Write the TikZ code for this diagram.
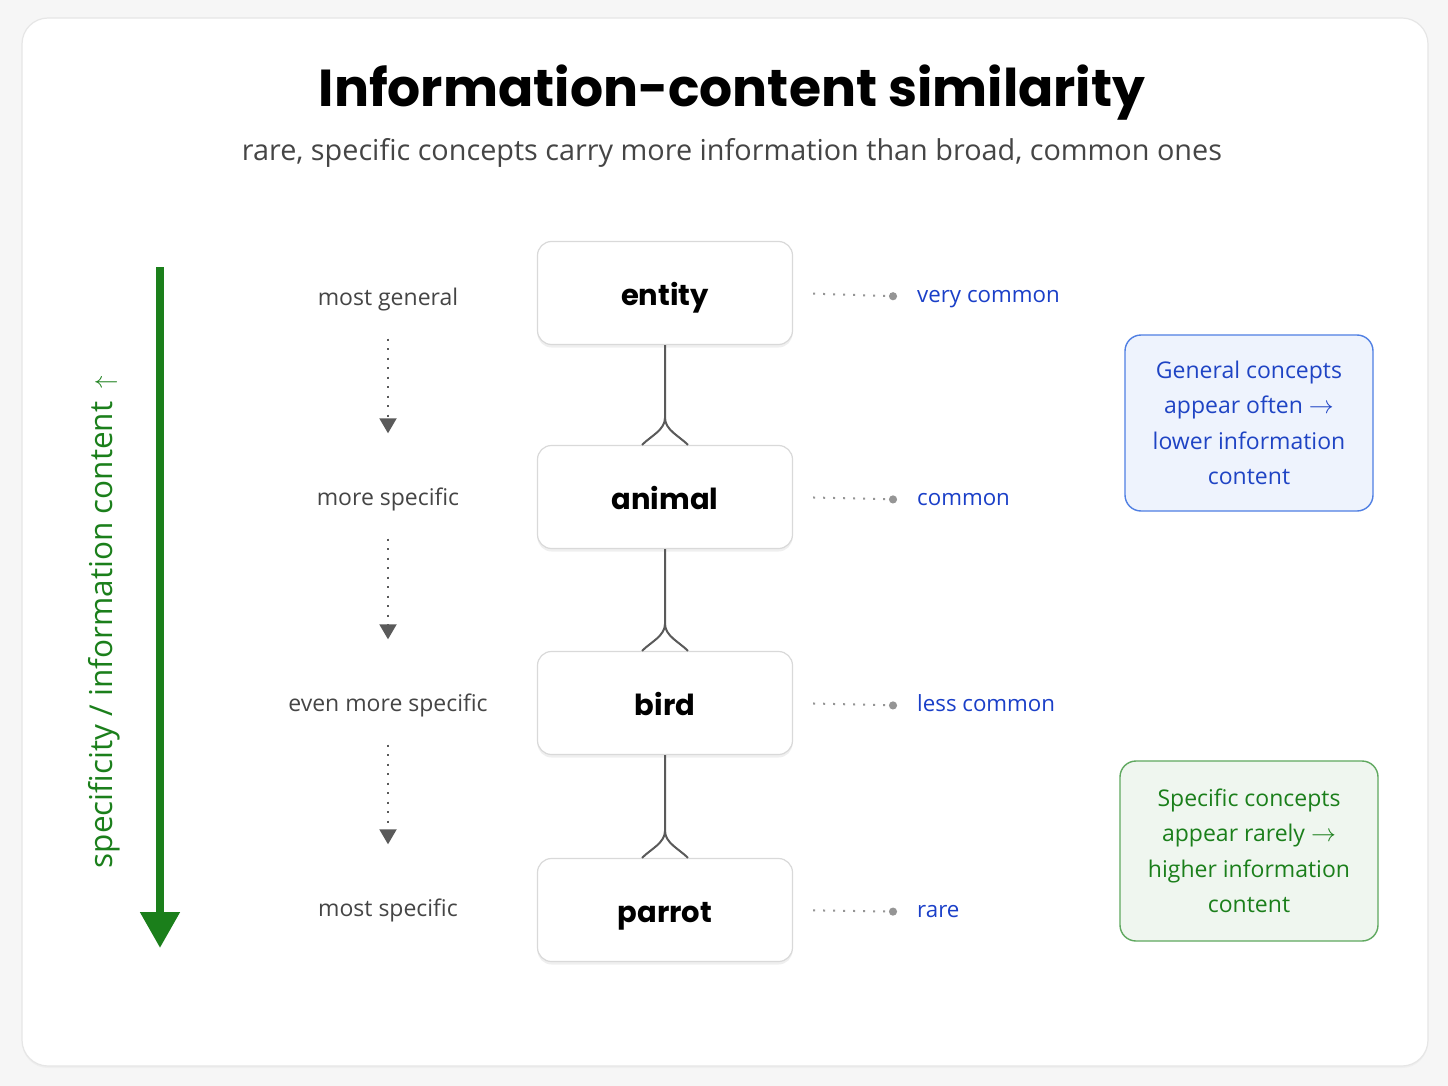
\documentclass[tikz,border=0pt]{standalone}
\usepackage{fontspec}
\setmainfont{Open Sans}
\newfontfamily\headfont{Poppins}
\newfontfamily\symfont{DejaVu Sans}
\usetikzlibrary{arrows.meta}
\usetikzlibrary{calc}
\usetikzlibrary{shadows}
\definecolor{pagegray}{HTML}{F6F6F6}
\definecolor{cardline}{HTML}{E6E6E6}
\definecolor{boxline}{HTML}{D9D9D9}
\definecolor{labelgray}{HTML}{454545}
\definecolor{linegray}{HTML}{5A5A5A}
\definecolor{dotgray}{HTML}{959595}
\definecolor{freqblue}{HTML}{1A3FC8}
\definecolor{noteblue}{HTML}{1F44C4}
\definecolor{noteblueline}{HTML}{4F7FE3}
\definecolor{notebluefill}{HTML}{EEF3FD}
\definecolor{specgreen}{HTML}{1B7F1B}
\definecolor{notegreenline}{HTML}{5FA85F}
\definecolor{notegreenfill}{HTML}{EFF6EF}
\tikzset{concept/.style = {draw=boxline, line width=1.2, fill=white, rounded corners=14,
    minimum width=255, minimum height=103, text=black, text height=26, text depth=2,
    font=\headfont\bfseries\fontsize{29}{34}\selectfont,
    drop shadow={shadow xshift=0pt, shadow yshift=-3pt, opacity=0.12}}}
\tikzset{level/.style = {inner sep=0, text height=16, text depth=5, text=labelgray,
    font=\fontsize{23}{27}\selectfont}}
\tikzset{freq/.style = {inner sep=0, anchor=west, text=freqblue, text height=16, text depth=5,
    font=\fontsize{22.3}{27}\selectfont}}
\tikzset{levelarrow/.style = {draw=linegray, line width=2, dash pattern=on 2 off 7.5,
    -{Triangle[width=17,length=15]}, shorten <=28, shorten >=56}}
\tikzset{freqline/.style = {draw=dotgray, line width=2, dash pattern=on 2 off 8,
    -{Circle[length=8,fill=dotgray]}, shorten <=20, shorten >=20}}
\tikzset{treeline/.style = {draw=linegray, line width=2}}
\tikzset{note/.style = {line width=1.4, rounded corners=16, align=center,
    font=\fontsize{23}{35.5}\selectfont}}

\begin{document}
\begin{tikzpicture}[x=1pt,y=-1pt]
\useasboundingbox[fill=pagegray] (0,0) rectangle (1448,1086);
\draw[cardline, line width=1.2, fill=white, rounded corners=26,
      drop shadow={shadow xshift=0pt, shadow yshift=-2pt, opacity=0.06}] (22,18) rectangle (1428,1066);

% heading
\node[anchor=base, font=\headfont\bfseries\fontsize{52}{60}\selectfont] (title) at (732,107) {Information-content similarity};
\node[anchor=base, text=labelgray, font=\fontsize{28.8}{34}\selectfont] (sub) at (732,161) {rare, specific concepts carry more information than broad, common ones};

% hierarchy
\node[concept] (entity) at (665,293) {entity};
\node[concept] (animal) at (665,497) {animal};
\node[concept] (bird) at (665,703) {bird};
\node[concept] (parrot) at (665,910) {parrot};

\coordinate (k1) at ($(animal.north)+(0,-27)$);
\coordinate (k2) at ($(bird.north)+(0,-27)$);
\coordinate (k3) at ($(parrot.north)+(0,-27)$);
\draw[treeline] (entity.south) -- (k1) .. controls +(0,12) and +(9,-9) .. ($(animal.north)+(-23,0)$);
\draw[treeline] (k1) .. controls +(0,12) and +(-9,-9) .. ($(animal.north)+(23,0)$);
\draw[treeline] (animal.south) -- (k2) .. controls +(0,12) and +(9,-9) .. ($(bird.north)+(-23,0)$);
\draw[treeline] (k2) .. controls +(0,12) and +(-9,-9) .. ($(bird.north)+(23,0)$);
\draw[treeline] (bird.south) -- (k3) .. controls +(0,12) and +(9,-9) .. ($(parrot.north)+(-23,0)$);
\draw[treeline] (k3) .. controls +(0,12) and +(-9,-9) .. ($(parrot.north)+(23,0)$);

% levels on the left
\node[level] (lvGeneral) at (388,300) {most general};
\node[level] (lvMore) at (388,500) {more specific};
\node[level] (lvEven) at (388,706) {even more specific};
\node[level] (lvMost) at (388,911) {most specific};
\draw[levelarrow] (lvGeneral.south) -- (lvMore.north);
\draw[levelarrow] (lvMore.south) -- (lvEven.north);
\draw[levelarrow] (lvEven.south) -- (lvMost.north);

% frequency on the right
\node[freq] (fEntity) at (917,297) {very common};
\node[freq] (fAnimal) at (917,500) {common};
\node[freq] (fBird) at (917,706) {less common};
\node[freq] (fParrot) at (917,912) {rare};
\draw[freqline] (entity.east) -- (fEntity.west);
\draw[freqline] (animal.east) -- (fAnimal.west);
\draw[freqline] (bird.east) -- (fBird.west);
\draw[freqline] (parrot.east) -- (fParrot.west);

% specificity axis
\coordinate (axTop) at (160,267);
\coordinate (axBot) at (160,948);
\draw[specgreen, line width=8, -{Triangle[width=38,length=36]}] (axTop) -- (axBot);
\node[rotate=90, text=specgreen, font=\fontsize{31.5}{36}\selectfont] (axis) at (104,622) {specificity / information content\, $\uparrow$};

% notes
\node[note, draw=noteblueline, fill=notebluefill, text=noteblue, minimum width=248, minimum height=176]
  (genNote) at (1249,423) {General concepts\\appear often $\rightarrow$\\lower information\\content};
\node[note, draw=notegreenline, fill=notegreenfill, text=specgreen, minimum width=258, minimum height=180]
  (specNote) at (1249,851) {Specific concepts\\appear rarely $\rightarrow$\\higher information\\content};
\end{tikzpicture}
\end{document}
